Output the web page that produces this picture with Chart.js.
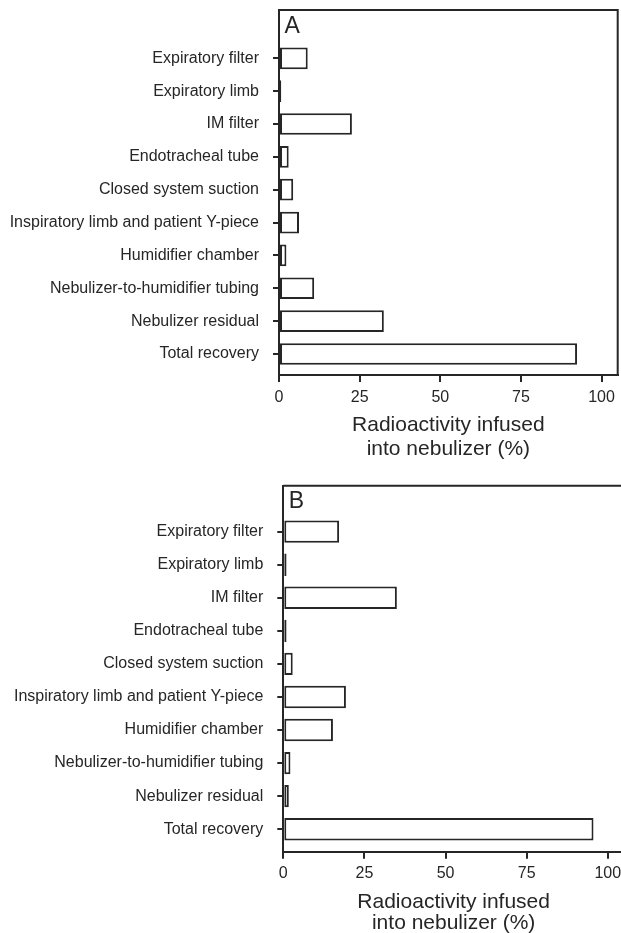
<!DOCTYPE html>
<html>
<head>
<meta charset="utf-8">
<script src="https://cdn.jsdelivr.net/npm/chart.js@4.4.1/dist/chart.umd.min.js"></script>
<style>
  html, body { margin: 0; padding: 0; background: #fff; overflow: hidden; }
  .panel { position: absolute; left: 0; }
  #boxA { top: 0; width: 621px; height: 460px; }
  #boxB { top: 460px; width: 630px; height: 473px; }
</style>
</head>
<body>
<div class="panel" id="boxA"><canvas id="chartA"></canvas></div>
<div class="panel" id="boxB"><canvas id="chartB"></canvas></div>
<script>
const categories = [
  'Expiratory filter',
  'Expiratory limb',
  'IM filter',
  'Endotracheal tube',
  'Closed system suction',
  'Inspiratory limb and patient Y-piece',
  'Humidifier chamber',
  'Nebulizer-to-humidifier tubing',
  'Nebulizer residual',
  'Total recovery'
];
const valuesA = [8.9, 0.7, 22.6, 3.0, 4.4, 6.2, 2.3, 10.9, 32.5, 92.4];
const valuesB = [17.2, 1.0, 35.0, 1.0, 2.9, 19.3, 15.3, 2.2, 1.7, 95.6];
const xTicks = [0, 25, 50, 75, 100];
const axisTitle = ['Radioactivity infused', 'into nebulizer (%)'];

const ink = '#262626';
const fontFamily = '"Liberation Sans", Arial, Helvetica, sans-serif';

// frame round the plot area plus the panel letter
const framePlugin = {
  id: 'frame',
  afterDraw(chart, args, opts) {
    const { ctx, chartArea: a } = chart;
    ctx.save();
    ctx.strokeStyle = ink;
    ctx.lineWidth = 2;
    ctx.beginPath();
    ctx.moveTo(a.left, a.top);
    ctx.lineTo(a.right, a.top);
    ctx.lineTo(a.right, a.bottom);
    ctx.stroke();
    ctx.fillStyle = ink;
    ctx.font = '23px ' + fontFamily;
    ctx.textBaseline = 'alphabetic';
    ctx.fillText(opts.letter, a.left + 5.5, a.top + 22.5);
    ctx.restore();
  }
};

function makeChart(id, letter, values, o) {
  return new Chart(document.getElementById(id), {
    type: 'bar',
    data: {
      datasets: [{
        data: values.map((v, i) => ({ x: v, y: i })),
        backgroundColor: '#ffffff',
        borderColor: '#262626',
        borderWidth: 2,
        borderSkipped: false,
        categoryPercentage: 1,
        barPercentage: o.barPct
      }]
    },
    options: {
      indexAxis: 'y',
      responsive: true,
      maintainAspectRatio: false,
      animation: false,
      layout: { padding: { top: o.padTop, right: o.padRight, left: 0, bottom: 0 } },
      plugins: {
        legend: { display: false },
        tooltip: { enabled: false },
        frame: { letter: letter }
      },
      scales: {
        x: {
          type: 'linear',
          min: 0,
          max: 105,
          afterBuildTicks: (s) => { s.ticks = xTicks.map((v) => ({ value: v })); },
          afterFit: (s) => { s.height = o.xHeight; s.paddingLeft = 0; s.paddingRight = 0; },
          grid: { drawOnChartArea: false, drawTicks: true, tickLength: 7, color: ink, lineWidth: 2 },
          border: { display: true, color: ink, width: 2 },
          ticks: { color: ink, padding: 5.5, maxRotation: 0, font: { family: fontFamily, size: 16 } },
          title: {
            display: true,
            text: axisTitle,
            color: ink,
            font: { family: fontFamily, size: 21, lineHeight: o.titleLH },
            padding: { top: 0, bottom: o.titlePad }
          }
        },
        y: {
          type: 'linear',
          reverse: true,
          offset: false,
          min: o.yMin,
          max: o.yMax,
          afterBuildTicks: (s) => { s.ticks = categories.map((c, i) => ({ value: i })); },
          afterFit: (s) => { s.width = o.yWidth; s.paddingTop = 0; s.paddingBottom = 0; },
          grid: { offset: false, drawOnChartArea: false, drawTicks: true, tickLength: 6, color: ink, lineWidth: 2 },
          border: { display: true, color: ink, width: 2 },
          ticks: {
            color: ink,
            padding: 14,
            autoSkip: false,
            font: { family: fontFamily, size: 16 },
            callback: (v) => categories[v]
          }
        }
      }
    },
    plugins: [framePlugin]
  });
}

makeChart('chartA', 'A', valuesA, {
  yMin: -1.47, yMax: 9.64, yWidth: 279, xHeight: 85,
  padTop: 10, padRight: 3.3, barPct: 0.66, titleLH: 24 / 21, titlePad: -1
});
makeChart('chartB', 'B', valuesB, {
  yMin: -1.39, yMax: 9.68, yWidth: 283.3, xHeight: 81.3,
  padTop: 25.7, padRight: 6, barPct: 0.675, titleLH: 21 / 21, titlePad: -0.5
});
</script>
</body>
</html>
